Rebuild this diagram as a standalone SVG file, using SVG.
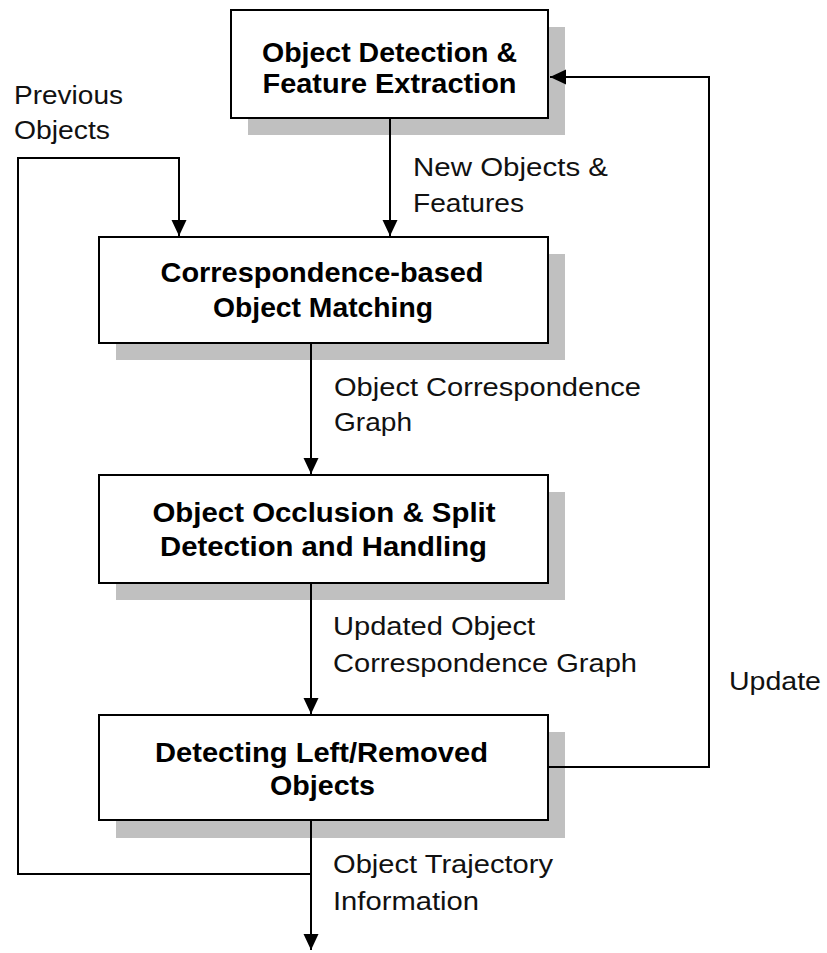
<svg xmlns="http://www.w3.org/2000/svg" width="827" height="953" viewBox="0 0 827 953">
<style>
.shadow{fill:#c0c0c0;stroke:none}
.box{fill:#ffffff;stroke:#000000;stroke-width:2}
.title{font-family:"Liberation Sans",Arial,sans-serif;font-weight:bold;font-size:28px;fill:#000;text-anchor:middle}
.label{font-family:"Liberation Sans",Arial,sans-serif;font-size:25px;fill:#111}
.conn{fill:none;stroke:#000;stroke-width:2}
</style>
<defs>
<marker id="arr" markerUnits="userSpaceOnUse" markerWidth="17" markerHeight="16" refX="16" refY="7.5" orient="auto">
<path d="M0,0 L16,7.5 L0,15 z" fill="#000"/>
</marker>
</defs>
<rect width="827" height="953" fill="#ffffff"/>

<g id="node-detection">
<rect class="shadow" x="248" y="27" width="317" height="108"/>
<rect class="box" x="231" y="10" width="317" height="108"/>
<text class="title" x="389.5" y="62" textLength="255" lengthAdjust="spacingAndGlyphs">Object Detection &amp;</text>
<text class="title" x="389.5" y="93" textLength="254" lengthAdjust="spacingAndGlyphs">Feature Extraction</text>
</g>

<g id="node-matching">
<rect class="shadow" x="116" y="254" width="449" height="106"/>
<rect class="box" x="99" y="237" width="449" height="106"/>
<text class="title" x="322" y="282" textLength="323" lengthAdjust="spacingAndGlyphs">Correspondence-based</text>
<text class="title" x="323" y="317" textLength="220" lengthAdjust="spacingAndGlyphs">Object Matching</text>
</g>

<g id="node-occlusion">
<rect class="shadow" x="116" y="492" width="449" height="108"/>
<rect class="box" x="99" y="475" width="449" height="108"/>
<text class="title" x="324" y="522" textLength="343" lengthAdjust="spacingAndGlyphs">Object Occlusion &amp; Split</text>
<text class="title" x="323.5" y="556" textLength="327" lengthAdjust="spacingAndGlyphs">Detection and Handling</text>
</g>

<g id="node-leftremoved">
<rect class="shadow" x="116" y="732" width="449" height="106"/>
<rect class="box" x="99" y="715" width="449" height="105"/>
<text class="title" x="321.5" y="762" textLength="333" lengthAdjust="spacingAndGlyphs">Detecting Left/Removed</text>
<text class="title" x="322.5" y="795" textLength="105" lengthAdjust="spacingAndGlyphs">Objects</text>
</g>

<g id="connectors">
<path class="conn" d="M390,118 V236" marker-end="url(#arr)"/>
<path class="conn" d="M311,343 V474" marker-end="url(#arr)"/>
<path class="conn" d="M311,583 V714" marker-end="url(#arr)"/>
<path class="conn" d="M311,820 V950" marker-end="url(#arr)"/>
<path class="conn" d="M311,874 H18 V158 H179 V236" marker-end="url(#arr)"/>
<path class="conn" d="M548,767 H709 V77 H550" marker-end="url(#arr)"/>
</g>

<g id="labels">
<text class="label" x="14" y="104" textLength="109" lengthAdjust="spacingAndGlyphs">Previous</text>
<text class="label" x="14" y="139" textLength="96" lengthAdjust="spacingAndGlyphs">Objects</text>
<text class="label" x="413" y="176" textLength="195" lengthAdjust="spacingAndGlyphs">New Objects &amp;</text>
<text class="label" x="413" y="212" textLength="111" lengthAdjust="spacingAndGlyphs">Features</text>
<text class="label" x="334" y="396" textLength="307" lengthAdjust="spacingAndGlyphs">Object Correspondence</text>
<text class="label" x="334" y="431" textLength="78" lengthAdjust="spacingAndGlyphs">Graph</text>
<text class="label" x="333" y="635" textLength="202" lengthAdjust="spacingAndGlyphs">Updated Object</text>
<text class="label" x="333" y="672" textLength="304" lengthAdjust="spacingAndGlyphs">Correspondence Graph</text>
<text class="label" x="729" y="690" textLength="92" lengthAdjust="spacingAndGlyphs">Update</text>
<text class="label" x="333" y="873" textLength="220" lengthAdjust="spacingAndGlyphs">Object Trajectory</text>
<text class="label" x="333" y="910" textLength="146" lengthAdjust="spacingAndGlyphs">Information</text>
</g>
</svg>
